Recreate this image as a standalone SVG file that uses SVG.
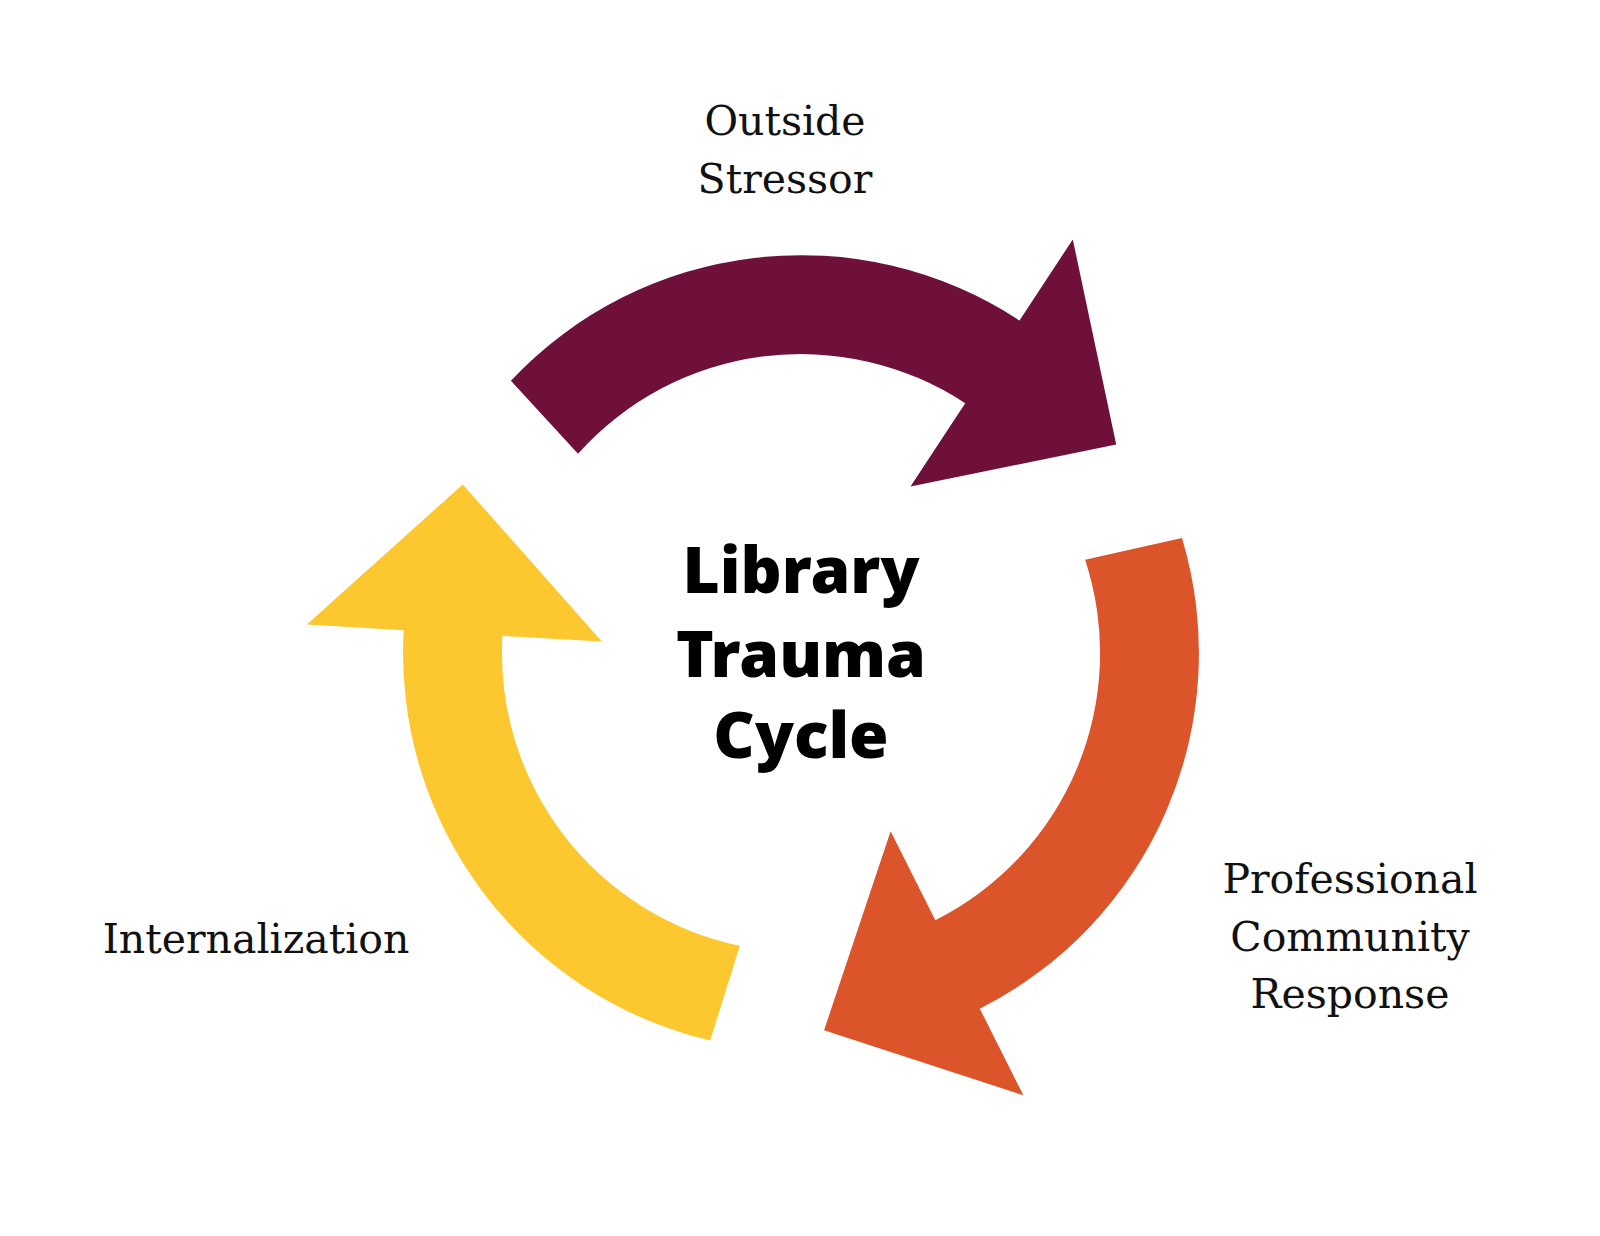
<svg xmlns="http://www.w3.org/2000/svg" width="1600" height="1236" viewBox="0 0 1600 1236">
  <style>
    .label { font-family: "DejaVu Serif", "Liberation Serif", serif; font-size: 41px; fill: #111111; text-anchor: middle; }
    .title { font-family: "Noto Sans", "Open Sans", "Liberation Sans", sans-serif; font-size: 64px; font-weight: 900; fill: #000000; text-anchor: middle; }
    .purple { fill: #6F103B; }
    .orange { fill: #DC5429; }
    .yellow { fill: #FDC730; }
  </style>
  <defs>
    <path id="cycle-arrow" d="M 510.9,380.7 A 398 398 0 0 1 1019.5,320.5 L 1072.8,239.4 L 1116.2,444.5 L 910.5,486.4 L 965.2,403.2 A 299 299 0 0 0 578.0,453.8 Z"/>
  </defs>
  <rect x="0" y="0" width="1600" height="1236" fill="#ffffff"/>
  <g id="connectors">
    <use href="#cycle-arrow" class="purple"/>
    <use href="#cycle-arrow" class="orange" transform="rotate(120 801 653.1)"/>
    <use href="#cycle-arrow" class="yellow" transform="rotate(240 801 653.1)"/>
  </g>
  <g id="node-center">
    <text class="title" x="801" y="593">Library</text>
    <text class="title" x="801" y="677">Trauma</text>
    <text class="title" x="801" y="758">Cycle</text>
  </g>
  <g id="node-outside-stressor">
    <text class="label" x="785" y="135">Outside</text>
    <text class="label" x="785" y="193">Stressor</text>
  </g>
  <g id="node-professional-community-response">
    <text class="label" x="1350" y="893">Professional</text>
    <text class="label" x="1350" y="951">Community</text>
    <text class="label" x="1350" y="1008">Response</text>
  </g>
  <g id="node-internalization">
    <text class="label" x="256" y="953">Internalization</text>
  </g>
</svg>
